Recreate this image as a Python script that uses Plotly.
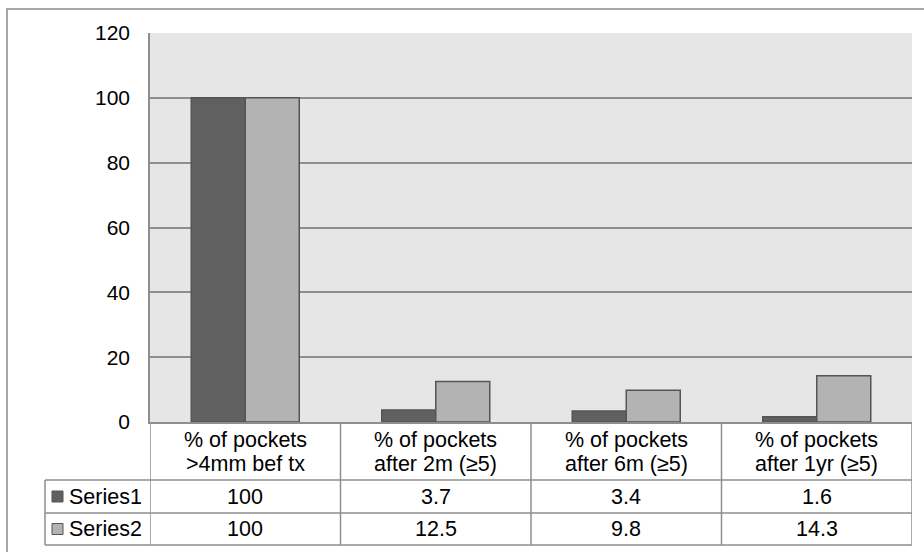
import plotly.graph_objects as go

# Chart data
categories = [
    "% of pockets<br>>4mm bef tx",
    "% of pockets<br>after 2m (≥5)",
    "% of pockets<br>after 6m (≥5)",
    "% of pockets<br>after 1yr (≥5)",
]
series_names = ["Series1", "Series2"]
series1 = [100, 3.7, 3.4, 1.6]
series2 = [100, 12.5, 9.8, 14.3]
y_ticks = [0, 20, 40, 60, 80, 100, 120]

colors = ["#606060", "#b3b3b3"]
outline = "#555555"
grid = "#8e8e8e"
font = "Liberation Sans, Arial, Helvetica, sans-serif"

W, H = 924, 552
L, R, T, B = 150, 12, 33, 130
plot_w = W - L - R
plot_h = H - T - B
base_px = T + plot_h  # pixel row of the x axis


def fx(px):
    return (px - L) / plot_w


def fy(px):
    return (base_px - px) / plot_h


fig = go.Figure()
for name, vals, col in zip(series_names, [series1, series2], colors):
    fig.add_trace(go.Bar(
        x=categories, y=vals, name=name,
        marker=dict(color=col, line=dict(color=outline, width=1.5)),
        showlegend=False,
    ))

shapes = []
annotations = []
line_style = dict(color=grid, width=1.5)

# outer chart border
shapes.append(dict(type="rect", xref="paper", yref="paper",
                   x0=fx(7), x1=fx(W + 10), y0=fy(9), y1=fy(H + 10),
                   line=dict(color="#8a8a8a", width=1.5), fillcolor="rgba(0,0,0,0)",
                   layer="below"))

# data table: row boundaries (pixel rows)
row_header_bottom = 480
row1_bottom = 513
row2_bottom = 545
legend_left = 45

# vertical lines at category boundaries
for b in [i - 0.5 for i in range(len(categories) + 1)]:
    shapes.append(dict(type="line", xref="x", yref="paper",
                       x0=b, x1=b, y0=fy(base_px), y1=fy(row2_bottom), line=line_style))
# legend column left edge
shapes.append(dict(type="line", xref="paper", yref="paper",
                   x0=fx(legend_left), x1=fx(legend_left),
                   y0=fy(row_header_bottom), y1=fy(row2_bottom), line=line_style))
# horizontal lines
for yy in [row_header_bottom, row1_bottom, row2_bottom]:
    shapes.append(dict(type="line", xref="paper", yref="paper",
                       x0=fx(legend_left), x1=1, y0=fy(yy), y1=fy(yy), line=line_style))

tf = dict(family=font, size=21.5, color="black")

# category header cells, one annotation per text line
header_line_centers = [439.5, 463.5]
for i, cat in enumerate(categories):
    for line_text, cy in zip(cat.split("<br>"), header_line_centers):
        annotations.append(dict(x=i, y=fy(cy), xref="x", yref="paper",
                                text=line_text, showarrow=False, font=tf,
                                xanchor="center", yanchor="middle"))

# value rows with legend keys
rows = [(series1, row_header_bottom, row1_bottom), (series2, row1_bottom, row2_bottom)]
for (vals, top, bot), name, col in zip(rows, series_names, colors):
    cy = (top + bot) / 2
    for i, v in enumerate(vals):
        annotations.append(dict(x=i, y=fy(cy), xref="x", yref="paper", text=f"{v:g}",
                                showarrow=False, font=tf, xanchor="center", yanchor="middle"))
    shapes.append(dict(type="rect", xref="paper", yref="paper",
                       x0=fx(52), x1=fx(63), y0=fy(cy - 5.5), y1=fy(cy + 5.5),
                       fillcolor=col, line=dict(color=outline, width=1)))
    annotations.append(dict(x=fx(67), y=fy(cy), xref="paper", yref="paper", text=name,
                            showarrow=False, font=tf, xanchor="left", yanchor="middle"))

fig.update_layout(
    width=W, height=H,
    margin=dict(l=L, r=R, t=T, b=B, pad=0),
    paper_bgcolor="white",
    plot_bgcolor="#e6e6e6",
    barmode="group",
    bargap=0.433,
    bargroupgap=0,
    font=dict(family=font, size=21, color="black"),
    shapes=shapes,
    annotations=annotations,
    xaxis=dict(range=[-0.5, len(categories) - 0.5], showticklabels=False, showgrid=False,
               showline=True, linecolor=grid, linewidth=1.5, zeroline=False, fixedrange=True),
    yaxis=dict(range=[0, 120], tickvals=y_ticks, showgrid=True, gridcolor=grid, gridwidth=1.5,
               showline=True, linecolor=grid, linewidth=1.5, zeroline=False,
               ticks="", ticklabelstandoff=14, tickfont=dict(family=font, size=21, color="black")),
)

fig.write_html("out.html")
